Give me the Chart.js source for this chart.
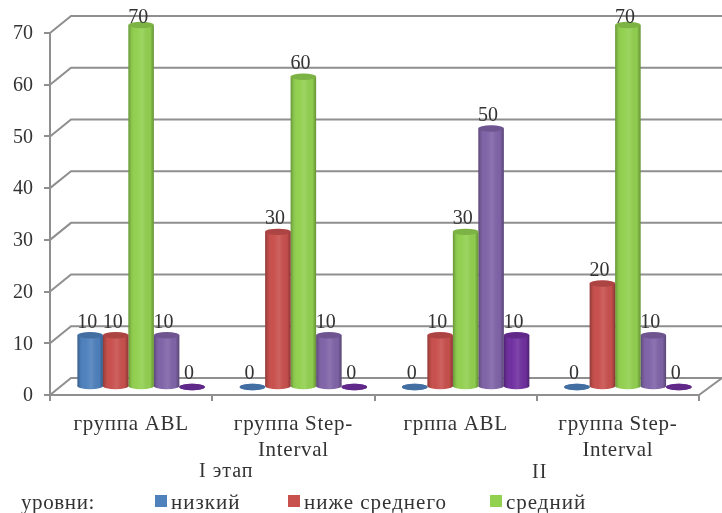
<!DOCTYPE html>
<html>
<head>
<meta charset="utf-8">
<style>
  html, body { margin: 0; padding: 0; background: #fff; }
  #chart { display: block; }
</style>
<script src="https://cdn.jsdelivr.net/npm/chart.js@4/dist/chart.umd.min.js"></script>
</head>
<body>
<canvas id="chart" width="722" height="513"></canvas>
<script>
const categories = ['группа ABL', ['группа Step-', 'Interval'], 'грппа ABL', ['группа Step-', 'Interval']];
const seriesNames = ['низкий', 'ниже среднего', 'средний', 'выше среднего', 'высокий'];
const low = [10, 0, 0, 0];
const belowAverage = [10, 30, 10, 20];
const average = [70, 60, 30, 70];
const aboveAverage = [10, 10, 50, 10];
const high = [0, 0, 10, 0];
const seriesColors = ['#4f81bd', '#c8504d', '#92d050', '#8064a8', '#7030a0'];
const stageLabels = ['I этап', 'II'];

const font = 'Liberation Serif';
const textColor = '#333';
const gridColor = '#8f8f8f';
const depthX = 21, depthY = 17;       // walls of the fake 3D box
const barShiftX = 10, barShiftY = -8; // columns stand in the middle of the floor
const capRadius = 3.2;
const legendBoxX = [155, 288, 490];   // only the first three series fit in the legend

function ellipse(ctx, cx, cy, rx, ry, fill) {
  ctx.beginPath();
  ctx.ellipse(cx, cy, rx, ry, 0, 0, Math.PI * 2);
  ctx.fillStyle = fill;
  ctx.fill();
}

function cylinderShade(ctx, x, w) {
  let g = ctx.createLinearGradient(x - w / 2, 0, x + w / 2, 0);
  g.addColorStop(0, 'rgba(0,0,0,0.28)');
  g.addColorStop(0.12, 'rgba(0,0,0,0.06)');
  g.addColorStop(0.3, 'rgba(255,255,255,0)');
  g.addColorStop(0.55, 'rgba(255,255,255,0.10)');
  g.addColorStop(0.85, 'rgba(0,0,0,0.02)');
  g.addColorStop(1, 'rgba(0,0,0,0.30)');
  return g;
}

// back wall and floor, drawn from the y scale
const wallsPlugin = {
  id: 'walls',
  beforeDatasetsDraw(chart) {
    const ctx = chart.ctx, y = chart.scales.y, a = chart.chartArea;
    ctx.save();
    ctx.strokeStyle = gridColor;
    ctx.lineWidth = 2;
    y.ticks.forEach(t => {
      let py = y.getPixelForValue(t.value);
      ctx.beginPath();
      ctx.moveTo(a.left, py);
      ctx.lineTo(a.left + depthX, py - depthY);
      ctx.lineTo(chart.width, py - depthY);
      ctx.stroke();
    });
    let py0 = y.getPixelForValue(0);
    ctx.beginPath();
    ctx.moveTo(a.right, py0);
    ctx.lineTo(a.right + depthX + 2, py0 - depthY);
    ctx.stroke();
    ctx.restore();
  }
};

// turns the library's flat bars into cylinders
const cylinderPlugin = {
  id: 'cylinders',
  beforeDatasetDraw(chart, args) {
    const ctx = chart.ctx;
    ctx.save();
    ctx.translate(barShiftX, barShiftY);
    const color = chart.data.datasets[args.index].backgroundColor;
    args.meta.data.forEach(bar => {
      ellipse(ctx, bar.x, bar.base, bar.width / 2, capRadius, color);
      ellipse(ctx, bar.x, bar.base, bar.width / 2, capRadius, cylinderShade(ctx, bar.x, bar.width));
    });
  },
  afterDatasetDraw(chart, args) {
    const ctx = chart.ctx;
    const color = chart.data.datasets[args.index].backgroundColor;
    args.meta.data.forEach(bar => {
      let h = bar.base - bar.y;
      if (h > 0) {
        ctx.fillStyle = cylinderShade(ctx, bar.x, bar.width);
        ctx.fillRect(bar.x - bar.width / 2, bar.y, bar.width, h);
      }
      ellipse(ctx, bar.x, bar.y, bar.width / 2, capRadius, color);
      ellipse(ctx, bar.x, bar.y, bar.width / 2, capRadius, 'rgba(0,0,0,0.14)');
    });
    ctx.restore();
  }
};

const valueLabelsPlugin = {
  id: 'valueLabels',
  afterDatasetsDraw(chart) {
    const ctx = chart.ctx;
    ctx.save();
    ctx.font = '20px "' + font + '"';
    ctx.fillStyle = textColor;
    ctx.textAlign = 'center';
    ctx.textBaseline = 'middle';
    chart.data.datasets.forEach((ds, i) => {
      chart.getDatasetMeta(i).data.forEach((bar, j) => {
        // labels stop at the top of the canvas area rather than run off it
        let ly = Math.max(17.5, bar.y + barShiftY - 13);
        ctx.fillText(String(ds.data[j]), bar.x + barShiftX - 3, ly);
      });
    });
    ctx.restore();
  }
};

const extraTextPlugin = {
  id: 'extraText',
  afterLayout(chart) {
    // category labels are set a little wider than the rest
    const x = chart.scales.x;
    x.drawLabels = function (area) {
      chart.ctx.save();
      chart.ctx.letterSpacing = '0.7px';
      Chart.Scale.prototype.drawLabels.call(this, area);
      chart.ctx.restore();
    };
  },
  afterDraw(chart) {
    const ctx = chart.ctx, x = chart.scales.x;
    ctx.save();
    ctx.fillStyle = textColor;
    ctx.textBaseline = 'middle';
    ctx.textAlign = 'center';
    ctx.font = '20px "' + font + '"';
    ctx.letterSpacing = '1px';
    ctx.fillText(stageLabels[0], x.getPixelForValue(0.5) + 14, 472);
    ctx.fillText(stageLabels[1], x.getPixelForValue(2.5) + 3, 473);

    // legend row
    ctx.textAlign = 'left';
    ctx.font = '21px "' + font + '"';
    ctx.letterSpacing = '0.6px';
    ctx.fillText('уровни:', 21, 503);
    ctx.letterSpacing = '1px';
    legendBoxX.forEach((bx, i) => {
      ctx.fillStyle = seriesColors[i];
      ctx.fillRect(bx, 495, 12, 12);
      ctx.fillStyle = textColor;
      ctx.fillText(seriesNames[i], bx + 16, 503);
    });
    ctx.restore();
  }
};

const seriesData = [low, belowAverage, average, aboveAverage, high];

new Chart(document.getElementById('chart'), {
  type: 'bar',
  plugins: [wallsPlugin, cylinderPlugin, valueLabelsPlugin, extraTextPlugin],
  data: {
    labels: categories,
    datasets: seriesNames.map((name, i) => ({
      label: name,
      data: seriesData[i],
      backgroundColor: seriesColors[i],
      borderWidth: 0
    }))
  },
  options: {
    responsive: false,
    animation: false,
    events: [],
    categoryPercentage: 0.785,
    barPercentage: 1,
    layout: { padding: { top: 33, right: 23, left: 0, bottom: 0 } },
    plugins: {
      tooltip: { enabled: false },
      legend: { display: false }
    },
    scales: {
      x: {
        afterFit(scale) { scale.height = 118; },
        grid: { drawOnChartArea: false, color: gridColor, lineWidth: 2, tickLength: 6 },
        border: { color: gridColor, width: 2 },
        ticks: {
          color: textColor,
          autoSkip: false,
          maxRotation: 0,
          padding: 10,
          font: { family: font, size: 21, lineHeight: 1.25 }
        }
      },
      y: {
        min: 0,
        max: 70,
        afterFit(scale) { scale.width = 50; },
        grid: { drawOnChartArea: false, color: gridColor, lineWidth: 2, tickLength: 6 },
        border: { color: gridColor, width: 2 },
        ticks: {
          stepSize: 10,
          color: textColor,
          padding: 11,
          labelOffset: 1,
          font: { family: font, size: 20 }
        }
      }
    }
  }
});
</script>
</body>
</html>
